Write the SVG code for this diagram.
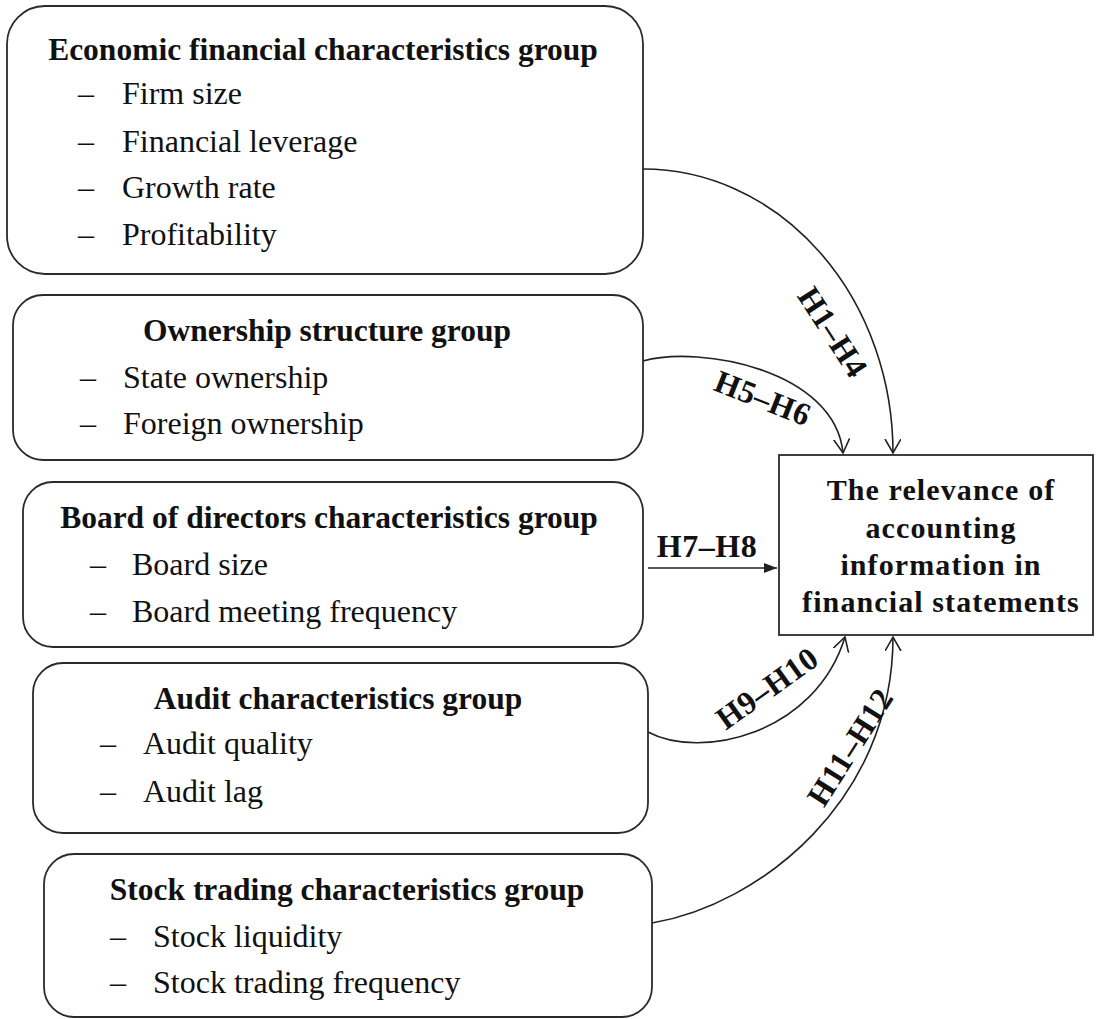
<svg xmlns="http://www.w3.org/2000/svg" width="1097" height="1019" viewBox="0 0 1097 1019">
<defs>
<style>
.box{fill:#fff;stroke:#2b2b2b;stroke-width:1.8}
.title{font-family:"Liberation Serif","Times New Roman",serif;font-weight:bold;font-size:31.5px;fill:#111;text-anchor:middle}
.item{font-family:"Liberation Serif","Times New Roman",serif;font-size:32px;fill:#111}
.tgt{font-family:"Liberation Serif","Times New Roman",serif;font-weight:bold;font-size:30px;fill:#111;text-anchor:middle;letter-spacing:1.1px}
.lbl{font-family:"Liberation Serif","Times New Roman",serif;font-weight:bold;font-size:32px;fill:#111;text-anchor:middle;letter-spacing:0.5px}
.con{fill:none;stroke:#222;stroke-width:1.6}
</style>
<marker id="open" markerUnits="userSpaceOnUse" markerWidth="16" markerHeight="18" refX="14" refY="8" orient="auto" viewBox="0 0 16 18">
<path d="M0,0 L14,8 L0,16" fill="none" stroke="#222" stroke-width="1.6"/>
</marker>
<marker id="solid" markerUnits="userSpaceOnUse" markerWidth="14" markerHeight="12" refX="13" refY="5" orient="auto" viewBox="0 0 14 12">
<path d="M0,0 L13,5 L0,10 Z" fill="#222"/>
</marker>
</defs>
<rect width="1097" height="1019" fill="#fff"/>

<g id="connectors">
<path class="con" d="M643,169 A250,284 0 0 1 893,453" marker-end="url(#open)"/>
<path class="con" d="M643,361 C700,345 835,370 843,453" marker-end="url(#open)"/>
<path class="con" d="M648,568 L777,568" marker-end="url(#solid)"/>
<path class="con" d="M648,732 C700,760 815,735 845,637" marker-end="url(#open)"/>
<path class="con" d="M652,923 C760,905 893,800 893,637" marker-end="url(#open)"/>
<text class="lbl" transform="translate(833,332) rotate(57)" dy="11">H1–H4</text>
<text class="lbl" transform="translate(763,398) rotate(21.6)" dy="11">H5–H6</text>
<text class="lbl" x="707" y="557">H7–H8</text>
<text class="lbl" transform="translate(767,688) rotate(-35.5)" dy="11">H9–H10</text>
<text class="lbl" transform="translate(850,747) rotate(-57.6)" dy="11">H11–H12</text>
</g>

<g id="economic">
<rect class="box" x="7" y="6" width="636" height="268" rx="38" ry="38"/>
<text class="title" x="323" y="60">Economic financial characteristics group</text>
<text class="item" x="78" y="104">–</text><text class="item" x="122" y="104">Firm size</text>
<text class="item" x="78" y="152">–</text><text class="item" x="122" y="152">Financial leverage</text>
<text class="item" x="78" y="198">–</text><text class="item" x="122" y="198">Growth rate</text>
<text class="item" x="78" y="245">–</text><text class="item" x="122" y="245">Profitability</text>
</g>

<g id="ownership">
<rect class="box" x="13" y="295" width="630" height="165" rx="30" ry="30"/>
<text class="title" x="327" y="341">Ownership structure group</text>
<text class="item" x="80" y="388">–</text><text class="item" x="123" y="388">State ownership</text>
<text class="item" x="80" y="434">–</text><text class="item" x="123" y="434">Foreign ownership</text>
</g>

<g id="board">
<rect class="box" x="23" y="482" width="620" height="165" rx="30" ry="30"/>
<text class="title" x="329" y="528">Board of directors characteristics group</text>
<text class="item" x="90" y="575">–</text><text class="item" x="132" y="575">Board size</text>
<text class="item" x="90" y="622">–</text><text class="item" x="132" y="622">Board meeting frequency</text>
</g>

<g id="audit">
<rect class="box" x="33" y="663" width="615" height="170" rx="30" ry="30"/>
<text class="title" x="338" y="709">Audit characteristics group</text>
<text class="item" x="100" y="754">–</text><text class="item" x="143" y="754">Audit quality</text>
<text class="item" x="100" y="802">–</text><text class="item" x="143" y="802">Audit lag</text>
</g>

<g id="stock">
<rect class="box" x="44" y="854" width="608" height="163" rx="30" ry="30"/>
<text class="title" x="347" y="900">Stock trading characteristics group</text>
<text class="item" x="110" y="947">–</text><text class="item" x="153" y="947">Stock liquidity</text>
<text class="item" x="110" y="993">–</text><text class="item" x="153" y="993">Stock trading frequency</text>
</g>

<g id="relevance">
<rect class="box" x="779" y="455" width="314" height="180"/>
<text class="tgt" x="941" y="500">The relevance of</text>
<text class="tgt" x="941" y="538">accounting</text>
<text class="tgt" x="941" y="575">information in</text>
<text class="tgt" x="941" y="612">financial statements</text>
</g>
</svg>
